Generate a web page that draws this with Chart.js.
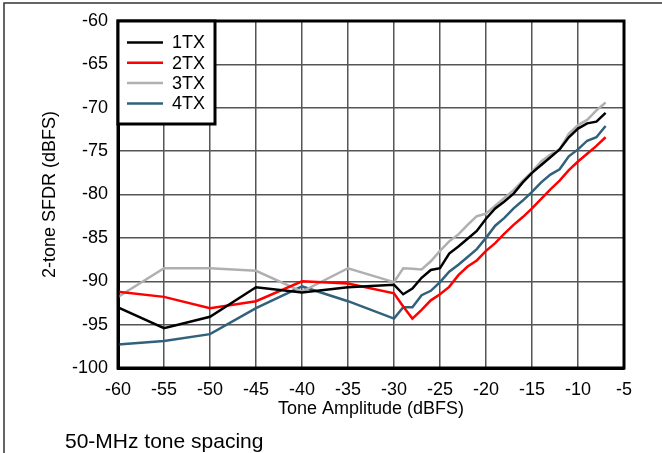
<!DOCTYPE html>
<html>
<head>
<meta charset="utf-8">
<script src="https://cdn.jsdelivr.net/npm/chart.js@4.4.1/dist/chart.umd.min.js"></script>
<style>
  html, body { margin: 0; padding: 0; background: #fff; }
  #wrap { position: relative; width: 662px; height: 453px; }
</style>
</head>
<body>
<div id="wrap"><canvas id="content" width="662" height="453"></canvas></div>
<script>
// tone amplitude (dBFS)
const toneAmp = [-60, -55, -50, -45, -40, -35, -30,
  -29, -28, -27, -26, -25, -24, -23, -22, -21, -20, -19, -18,
  -17, -16, -15, -14, -13, -12, -11, -10, -9, -8, -7];

const sfdr1TX = [-93.0, -95.4, -94.1, -90.7, -91.3, -90.7, -90.4,
  -91.5, -90.85, -89.6, -88.7, -88.5, -86.8, -86.0, -85.1, -84.2, -82.8, -81.6, -80.8,
  -79.9, -78.6, -77.5, -76.6, -75.7, -74.8, -73.4, -72.4, -71.8, -71.6, -70.6];
const sfdr2TX = [-91.2, -91.8, -93.1, -92.3, -90.0, -90.25, -91.4,
  -92.9, -94.3, -93.3, -92.2, -91.5, -90.65, -89.3, -88.3, -87.6, -86.5, -85.6, -84.5,
  -83.5, -82.6, -81.6, -80.5, -79.4, -78.4, -77.2, -76.2, -75.3, -74.4, -73.4];
const sfdr3TX = [-91.8, -88.5, -88.5, -88.8, -91.2, -88.5, -90.1,
  -88.5, -88.55, -88.65, -87.7, -86.5, -85.4, -84.6, -83.5, -82.5, -82.2, -81.3, -80.4,
  -79.5, -78.4, -77.4, -76.2, -75.4, -74.8, -73.0, -72.0, -71.4, -70.3, -69.4];
const sfdr4TX = [-97.3, -96.9, -96.1, -93.1, -90.6, -92.3, -94.3,
  -93.0, -93.0, -91.6, -91.1, -90.1, -88.9, -88.1, -87.2, -86.3, -85.0, -83.6, -82.7,
  -81.6, -80.7, -79.7, -78.6, -77.7, -77.1, -75.6, -74.8, -73.8, -73.4, -72.1];

const seriesNames = ["1TX", "2TX", "3TX", "4TX"];
const seriesColors = ["#000000", "#ff0000", "#b0b0b0", "#31617b"];
const caption = "50-MHz tone spacing";

const FONT = "'Liberation Sans', Arial, sans-serif";

function pts(vals) {
  return toneAmp.map((x, i) => ({ x: x, y: vals[i] }));
}

// frame, plot border, legend box, caption
const extras = {
  id: "extras",
  afterDraw(chart) {
    const ctx = chart.ctx;
    const a = chart.chartArea;
    ctx.save();
    // outer figure frame (top + left)
    ctx.strokeStyle = "#333";
    ctx.lineWidth = 1.5;
    ctx.beginPath();
    ctx.moveTo(4, 453);
    ctx.lineTo(4, 3);
    ctx.lineTo(662, 3);
    ctx.stroke();

    // plot border
    ctx.strokeStyle = "#000";
    ctx.lineWidth = 3;
    ctx.strokeRect(a.left, a.top, a.right - a.left, a.bottom - a.top);

    // legend
    const lx = a.left, ly = a.top, lw = 97, lh = 103;
    ctx.fillStyle = "#fff";
    ctx.fillRect(lx, ly, lw, lh);
    ctx.strokeRect(lx, ly, lw, lh);
    ctx.font = "18px " + FONT;
    ctx.textBaseline = "middle";
    ctx.textAlign = "left";
    chart.data.datasets.forEach((ds, i) => {
      const y = ly + 21.5 + i * 20.3;
      ctx.strokeStyle = ds.borderColor;
      ctx.lineWidth = 2.5;
      ctx.beginPath();
      ctx.moveTo(lx + 9, y);
      ctx.lineTo(lx + 45, y);
      ctx.stroke();
      ctx.fillStyle = "#000";
      ctx.fillText(ds.label, lx + 54, y + 1);
    });

    // caption
    ctx.font = "21px " + FONT;
    ctx.textBaseline = "alphabetic";
    ctx.fillStyle = "#000";
    ctx.fillText(caption, 65, 448);
    ctx.restore();
  }
};

new Chart("content", {
  type: "line",
  data: {
    datasets: seriesNames.map((name, i) => ({
      label: name,
      data: pts([sfdr1TX, sfdr2TX, sfdr3TX, sfdr4TX][i]),
      borderColor: seriesColors[i],
      backgroundColor: seriesColors[i],
      borderWidth: 2.5,
      pointRadius: 0,
      tension: 0,
      fill: false
    }))
  },
  options: {
    responsive: false,
    animation: false,
    events: [],
    layout: { padding: { top: 21, right: 38, bottom: 30, left: 0 } },
    plugins: {
      legend: { display: false },
      tooltip: { enabled: false }
    },
    scales: {
      x: {
        type: "linear",
        min: -60,
        max: -5,
        ticks: { stepSize: 5, color: "#000", font: { family: FONT, size: 18 }, padding: 11, maxRotation: 0 },
        grid: { color: "#555", lineWidth: 1.5, drawTicks: false },
        border: { color: "#000", width: 3 },
        title: { display: true, text: "Tone Amplitude (dBFS)", color: "#000", font: { family: FONT, size: 18 }, padding: { top: 0, bottom: 3 } },
        afterFit(scale) { scale.height = 55; }
      },
      y: {
        type: "linear",
        min: -100,
        max: -60,
        ticks: { stepSize: 5, color: "#000", font: { family: FONT, size: 18 }, padding: 10 },
        grid: { color: "#555", lineWidth: 1.5, drawTicks: false },
        border: { color: "#000", width: 3 },
        title: { display: true, text: "2-tone SFDR (dBFS)", color: "#000", font: { family: FONT, size: 18 }, padding: { top: 39, bottom: 0 } },
        afterFit(scale) { scale.width = 118; }
      }
    }
  },
  plugins: [extras]
});
</script>
</body>
</html>
